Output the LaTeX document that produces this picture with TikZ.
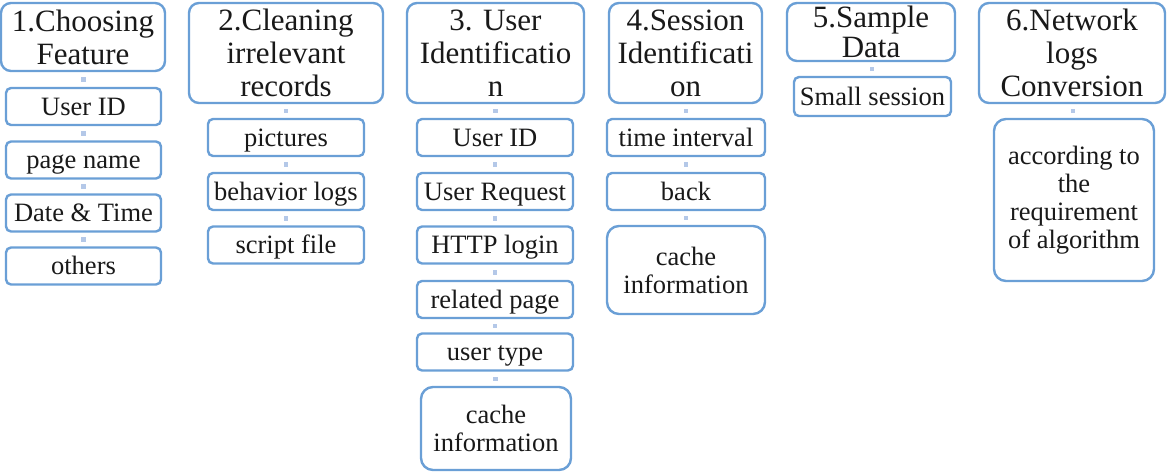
\documentclass[tikz,border=0pt]{standalone}
\usepackage{fontspec}
\setmainfont{Liberation Serif}
\usepackage{tikz}
\definecolor{edgeblue}{HTML}{6A9FD6}
\definecolor{dotblue}{HTML}{B4C8E8}

\begin{document}
\begin{tikzpicture}[x=1pt, y=-1pt,
        box/.style={draw=edgeblue, line width=2.4pt, fill=white, align=center, text=black!90, inner sep=0pt},
        head/.style={box, rounded corners=10pt, font=\fontsize{31}{33}\selectfont},
        item/.style={box, rounded corners=5pt, font=\fontsize{26.5}{28}\selectfont, minimum height=37pt, text height=17pt, text depth=0pt},
        tall/.style={box, rounded corners=12pt, font=\fontsize{26.5}{28}\selectfont},
        dot/.style={fill=dotblue, inner sep=0pt, minimum size=4.5pt}]
    \useasboundingbox (0,0) rectangle (1167,472);

    \node[head, minimum width=164pt, minimum height=68pt] (h1) at (83,37) {1.Choosing\\Feature};
    \node[item, minimum width=155pt] (h1a) at (83.5,106.5) {User ID};
    \node[item, minimum width=155pt] (h1b) at (83.5,160) {page name};
    \node[item, minimum width=155pt] (h1c) at (83.5,213) {Date \& Time};
    \node[item, minimum width=155pt] (h1d) at (83.5,266) {others};

    \node[head, minimum width=194pt, minimum height=100pt] (h2) at (286,53) {2.Cleaning\\irrelevant\\records};
    \node[item, minimum width=156pt] (h2a) at (286,137.5) {pictures};
    \node[item, minimum width=156pt] (h2b) at (286,191.5) {behavior logs};
    \node[item, minimum width=156pt] (h2c) at (286,245) {script file};

    \node[head, minimum width=177pt, minimum height=100pt] (h3) at (495.5,53) {3. User\\Identificatio\\n};
    \node[item, minimum width=156pt] (h3a) at (495,137.5) {User ID};
    \node[item, minimum width=156pt] (h3b) at (495,191.5) {User Request};
    \node[item, minimum width=156pt] (h3c) at (495,245) {HTTP login};
    \node[item, minimum width=156pt] (h3d) at (495,299.5) {related page};
    \node[item, minimum width=156pt] (h3e) at (495,352) {user type};
    \node[tall, minimum width=150pt, minimum height=83pt] (h3f) at (496,428.5) {cache\\information};

    \node[head, minimum width=153pt, minimum height=100pt] (h4) at (685.5,53) {4.Session\\Identificati\\on};
    \node[item, minimum width=158pt] (h4a) at (686,137.5) {time interval};
    \node[item, minimum width=158pt] (h4b) at (686,191.5) {back};
    \node[tall, minimum width=158pt, minimum height=88pt] (h4c) at (686,270) {cache\\information};

    \node[head, minimum width=168pt, minimum height=58pt, font=\fontsize{31}{30}\selectfont] (h5) at (871,32) {5.Sample\\Data};
    \node[item, minimum width=157pt, minimum height=39pt] (h5a) at (872.5,96.5) {Small session};

    \node[head, minimum width=186pt, minimum height=100pt] (h6) at (1072,53) {6.Network\\logs\\Conversion};
    \node[tall, minimum width=160pt, minimum height=162pt] (h6a) at (1074,200) {according to\\the\\requirement\\of algorithm};

    \foreach \a/\b in {h1/h1a, h1a/h1b, h1b/h1c, h1c/h1d,
                       h2/h2a, h2a/h2b, h2b/h2c,
                       h3/h3a, h3a/h3b, h3b/h3c, h3c/h3d, h3d/h3e, h3e/h3f,
                       h4/h4a, h4a/h4b, h4b/h4c,
                       h5/h5a, h6/h6a}
        \path (\a.south) -- (\b.north) node[midway, dot] {};
\end{tikzpicture}
\end{document}
